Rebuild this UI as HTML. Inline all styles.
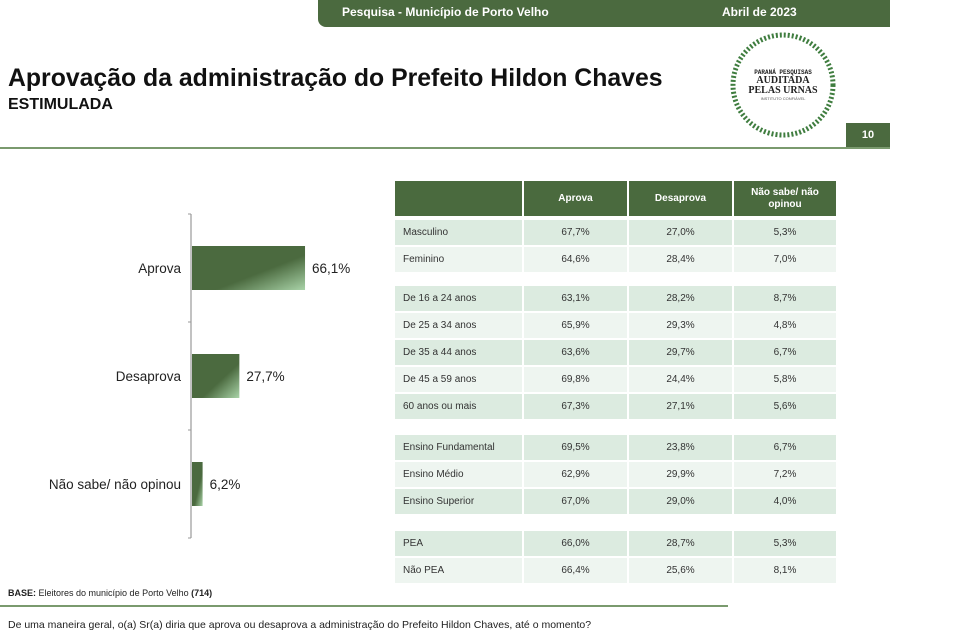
<!DOCTYPE html>
<html><head><meta charset="utf-8">
<style>
body{margin:0;width:960px;height:640px;background:#fff;font-family:"Liberation Sans",Arial,sans-serif;position:relative;overflow:hidden}
.a{position:absolute}
.cell{position:absolute;height:25px;line-height:25px;font-size:10px;color:#333;text-align:center}
.hd{position:absolute;top:181px;height:35px;background:#4a6a3e;color:#fff;font-size:10px;font-weight:bold;display:flex;align-items:center;justify-content:center;text-align:center;line-height:12px}
</style></head><body>
<div class="a" style="left:318px;top:0;width:572px;height:27px;background:#4b6a3f;border-bottom-left-radius:8px"></div>
<div class="a" style="left:342px;top:5px;color:#fff;font-size:12px;font-weight:bold">Pesquisa - Município de Porto Velho</div>
<div class="a" style="left:722px;top:5px;color:#fff;font-size:12px;font-weight:bold">Abril de 2023</div>
<div class="a" style="left:8px;top:65px;font-size:24.8px;font-weight:bold;color:#111">Aprovação da administração do Prefeito Hildon Chaves</div>
<div class="a" style="left:8px;top:96px;font-size:16px;font-weight:bold;color:#111">ESTIMULADA</div>
<svg class="a" style="left:725px;top:28px" width="120" height="115">
<circle cx="58" cy="57" r="50" fill="none" stroke="#3f7d3f" stroke-width="5" stroke-dasharray="2 2"/>
<text x="58" y="46" font-size="6" font-weight="bold" text-anchor="middle" fill="#222" font-family="Liberation Mono">PARANÁ PESQUISAS</text>
<text x="58" y="55" font-size="10" font-weight="bold" text-anchor="middle" fill="#222" font-family="Liberation Serif">AUDITADA</text>
<text x="58" y="65" font-size="10" font-weight="bold" text-anchor="middle" fill="#222" font-family="Liberation Serif">PELAS URNAS</text>
<text x="58" y="72" font-size="4" text-anchor="middle" fill="#555">INSTITUTO CONFIÁVEL</text>
</svg>
<div class="a" style="left:846px;top:123px;width:44px;height:24px;background:#4b6a3f;color:#fff;font-size:11px;font-weight:bold;text-align:center;line-height:24px">10</div>
<div class="a" style="left:0;top:147px;width:890px;height:2px;background:#7a9a6e"></div>

<svg class="a" id="chart" style="left:0;top:200px" width="390" height="350"></svg>

<div id="table"></div>

<div class="a" style="left:8px;top:588px;font-size:9px;color:#222"><b>BASE:</b> Eleitores do município de Porto Velho <b>(714)</b></div>
<div class="a" style="left:0;top:605px;width:728px;height:2px;background:#7a9a6e"></div>
<div class="a" style="left:8px;top:619px;font-size:10.5px;color:#222">De uma maneira geral, o(a) Sr(a) diria que aprova ou desaprova a administração do Prefeito Hildon Chaves, até o momento?</div>

<script>
const categories=["Aprova","Desaprova","Não sabe/ não opinou"];
const values=[66.1,27.7,6.2];
const valueLabels=["66,1%","27,7%","6,2%"];
const NS="http://www.w3.org/2000/svg";
const svg=document.getElementById('chart');
const x0=191, top0=14, bandH=108, barH=44, pxPer=1.71;
function xs(v){return x0+v*pxPer;}
function yb(i){return top0+i*bandH;}
const defs=document.createElementNS(NS,'defs');
defs.innerHTML='<linearGradient id="g" x1="0" y1="0" x2="1" y2="1"><stop offset="0.6" stop-color="#4b6a3f"/><stop offset="1" stop-color="#a9d3a8"/></linearGradient>';
svg.appendChild(defs);
const ax=document.createElementNS(NS,'line');


ax.setAttribute('x1',x0);ax.setAttribute('x2',x0);ax.setAttribute('y1',yb(0));ax.setAttribute('y2',yb(categories.length));
ax.setAttribute('stroke','#999');ax.setAttribute('stroke-width','1.2');svg.appendChild(ax);
for(let i=0;i<=categories.length;i++){
 const t=document.createElementNS(NS,'line');
 
 
 t.setAttribute('x1',x0-3);t.setAttribute('x2',x0);t.setAttribute('y1',yb(i));t.setAttribute('y2',yb(i));
 t.setAttribute('stroke','#999');svg.appendChild(t);
}
categories.forEach((c,i)=>{
 const cy=yb(i)+bandH/2;
 const r=document.createElementNS(NS,'rect');
 
 
 r.setAttribute('x',x0+1);r.setAttribute('y',cy-barH/2);r.setAttribute('width',xs(values[i])-x0);r.setAttribute('height',barH);
 r.setAttribute('fill','url(#g)');svg.appendChild(r);
 const l=document.createElementNS(NS,'text');
 
 
 l.setAttribute('x',x0-10);l.setAttribute('y',cy+5);l.setAttribute('text-anchor','end');l.setAttribute('font-size','13.5');l.setAttribute('fill','#222');
 l.textContent=c;svg.appendChild(l);
 const v=document.createElementNS(NS,'text');
 
 
 v.setAttribute('x',xs(values[i])+8);v.setAttribute('y',cy+5);v.setAttribute('font-size','13.5');v.setAttribute('fill','#222');
 v.textContent=valueLabels[i];svg.appendChild(v);
});

const rowLabels=["Masculino","Feminino","De 16 a 24 anos","De 25 a 34 anos","De 35 a 44 anos","De 45 a 59 anos","60 anos ou mais","Ensino Fundamental","Ensino Médio","Ensino Superior","PEA","Não PEA"];
const aprova=["67,7%","64,6%","63,1%","65,9%","63,6%","69,8%","67,3%","69,5%","62,9%","67,0%","66,0%","66,4%"];
const desaprova=["27,0%","28,4%","28,2%","29,3%","29,7%","24,4%","27,1%","23,8%","29,9%","29,0%","28,7%","25,6%"];
const naoSabe=["5,3%","7,0%","8,7%","4,8%","6,7%","5,8%","5,6%","6,7%","7,2%","4,0%","5,3%","8,1%"];
const rowTops=[220,247,286,313,340,367,394,435,462,489,531,558];
const shade=[0,1,0,1,0,1,0,0,1,0,0,1];
const cols=[[395,127],[524,103],[629,103],[734,102]];
const tb=document.getElementById('table');
const heads=["","Aprova","Desaprova","Não sabe/ não<br>opinou"];
heads.forEach((h,j)=>{
 const d=document.createElement('div');d.className='hd';
 
 
 d.style.left=cols[j][0]+'px';d.style.width=cols[j][1]+'px';d.innerHTML=h;tb.appendChild(d);
});
rowLabels.forEach((r,i)=>{
 const vals=[r,aprova[i],desaprova[i],naoSabe[i]];
 vals.forEach((v,j)=>{
  const d=document.createElement('div');d.className='cell';
  
  
  d.style.left=cols[j][0]+'px';d.style.width=(cols[j][1]-(j==0?8:0))+'px';d.style.top=rowTops[i]+'px';
  d.style.background=shade[i]?'#eef5f0':'#dcebe0';
  if(j==0){d.style.textAlign='left';d.style.paddingLeft='8px';}
  d.textContent=v;tb.appendChild(d);
 });
});
</script>
</body></html>
